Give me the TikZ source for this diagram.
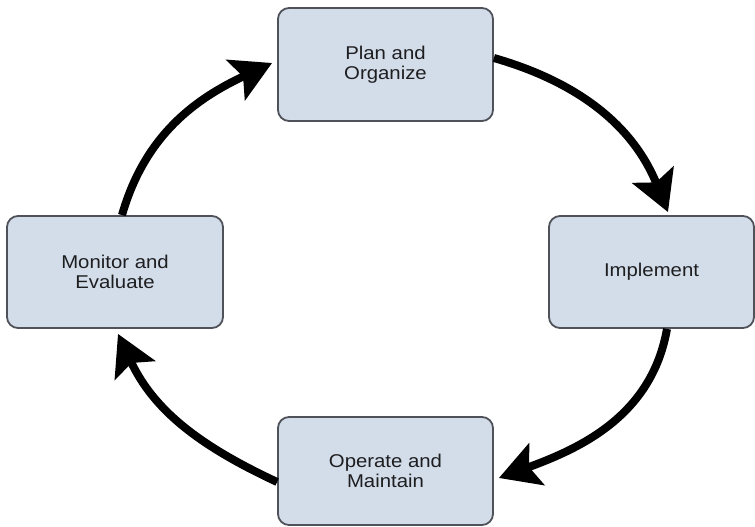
\documentclass[tikz,border=0pt]{standalone}
\usepackage{fontspec}
\setmainfont{Liberation Sans}
\newfontfamily\boxfont[FakeStretch=1.1]{Liberation Sans}
\usetikzlibrary{arrows.meta}
\definecolor{boxfill}{RGB}{211,221,234}
\definecolor{boxline}{RGB}{80,82,90}
\definecolor{boxtext}{RGB}{30,30,32}
\begin{document}
\begin{tikzpicture}[x=1pt,y=1pt,
  stage/.style={draw=boxline, fill=boxfill, line width=1.8pt,
    rounded corners=11pt, align=center, text=boxtext, inner sep=0pt,
    font=\boxfont\fontsize{18.5}{20.5}\selectfont},
  looparrow/.style={line width=8pt,
    -{Stealth[length=40pt,width=44pt,inset=8pt]}}]
\useasboundingbox (0,0) rectangle (755,527);

% the four stages of the cycle
\node[stage, minimum width=215pt, minimum height=113pt] (plan) at (385.5,462.5) {Plan and\\Organize};
\node[stage, minimum width=205pt, minimum height=112pt] (impl) at (651.5,255) {Implement};
\node[stage, minimum width=215pt, minimum height=108pt] (oper) at (385.5,56) {Operate and\\Maintain};
\node[stage, minimum width=216pt, minimum height=112pt] (mon) at (115,255) {Monitor and\\Evaluate};

% curved arrows running clockwise between the stages
\draw[looparrow] ([yshift=6.5pt]plan.east) to[out=-16, in=112] ([xshift=16.5pt,yshift=3pt]impl.north);
\draw[looparrow] ([xshift=15.5pt]impl.south) to[out=-100, in=20] ([xshift=5pt,yshift=-7pt]oper.east);
\draw[looparrow] ([yshift=-11pt]oper.west) to[out=155, in=-65] ([xshift=3pt,yshift=-5pt]mon.south);
\draw[looparrow] ([xshift=7pt]mon.north) to[out=74, in=205] ([xshift=-5pt,yshift=1.5pt]plan.west);
\end{tikzpicture}
\end{document}
